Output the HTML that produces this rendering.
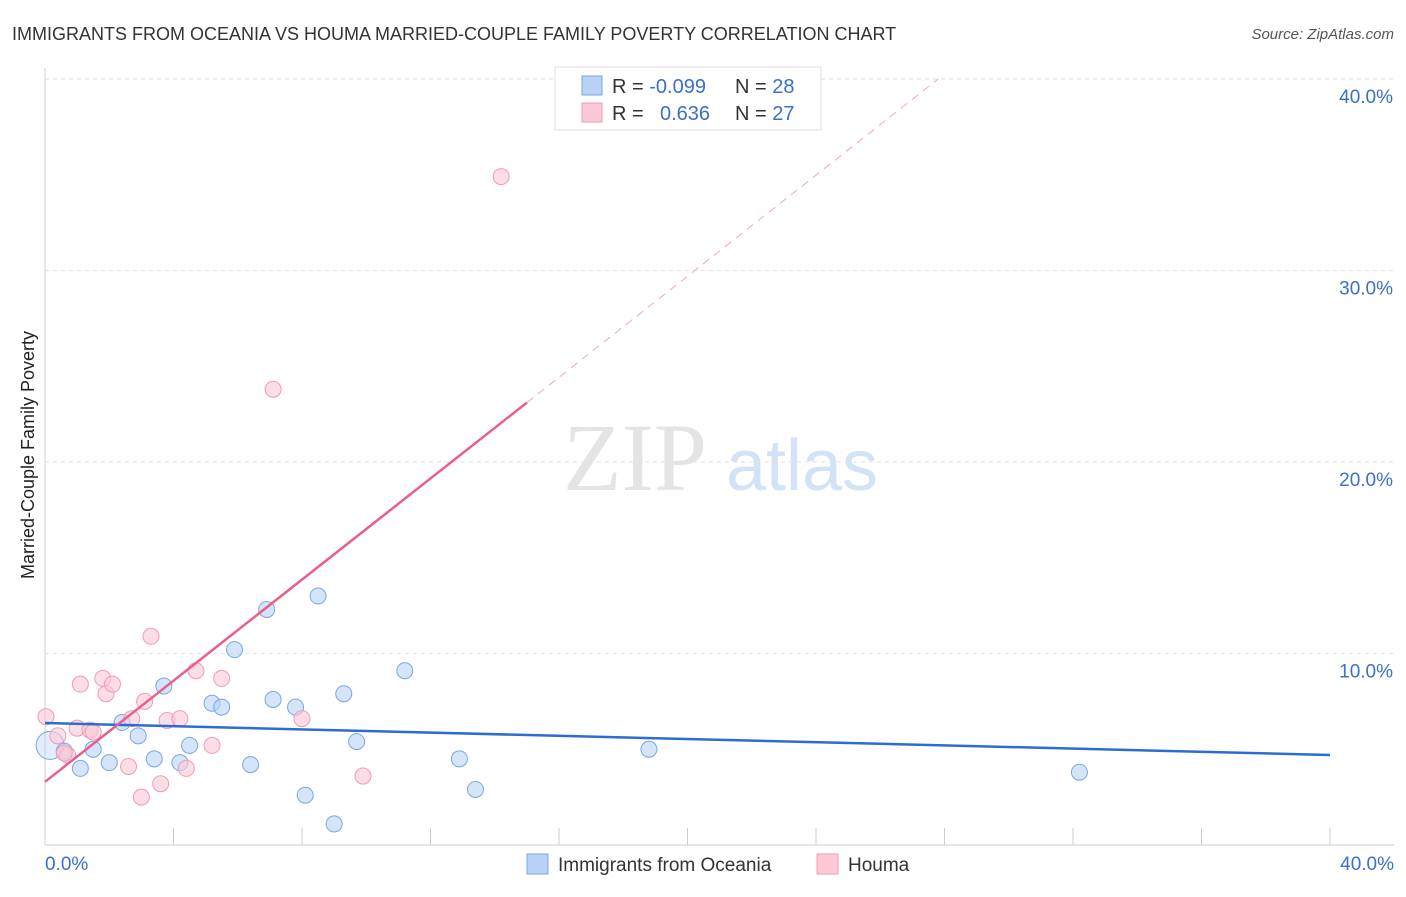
<!DOCTYPE html>
<html><head><meta charset="utf-8"><style>
body{margin:0;background:#fff;font-family:"Liberation Sans",sans-serif;}
</style></head><body>
<svg id="c" width="1406" height="892" xmlns="http://www.w3.org/2000/svg" font-family="Liberation Sans, sans-serif">
<text x="12" y="40" font-size="18" fill="#333">IMMIGRANTS FROM OCEANIA VS HOUMA MARRIED-COUPLE FAMILY POVERTY CORRELATION CHART</text>
<text x="1394" y="39" font-size="15" fill="#555" font-style="italic" text-anchor="end">Source: ZipAtlas.com</text>
<text x="635" y="490" font-size="96" fill="#e4e4e4" font-family="Liberation Serif, serif" text-anchor="middle">ZIP</text>
<text x="802" y="490" font-size="72" fill="#d3e2f5" text-anchor="middle">atlas</text>
<text x="34" y="455" font-size="18" fill="#222" text-anchor="middle" transform="rotate(-90 34 455)">Married-Couple Family Poverty</text>
<g id="grid"></g><g id="marks"></g>
<g>
<rect x="555" y="67" width="266" height="63" fill="#fff" stroke="#ddd"/>
<rect x="582" y="76" width="20" height="19" fill="#b8d3f5" stroke="#7aa6e0"/>
<rect x="582" y="103" width="20" height="19" fill="#fbc8d6" stroke="#f09ab4"/>
<text x="612" y="93" font-size="20" fill="#333">R = <tspan fill="#3a6fcc">-0.099</tspan></text>
<text x="735" y="93" font-size="20" fill="#333">N = <tspan fill="#3a6fcc">28</tspan></text>
<text x="612" y="120" font-size="20" fill="#333">R = <tspan fill="#3a6fcc" x="660">0.636</tspan></text>
<text x="735" y="120" font-size="20" fill="#333">N = <tspan fill="#3a6fcc">27</tspan></text>
</g>
<g>
<rect x="527" y="854" width="21" height="20" fill="#b8d3f5" stroke="#7aa6e0"/>
<text x="558" y="871" font-size="19" fill="#333">Immigrants from Oceania</text>
<rect x="817" y="854" width="21" height="20" fill="#fbc8d6" stroke="#f09ab4"/>
<text x="848" y="871" font-size="19" fill="#333">Houma</text>
</g>
</svg>
<script>
const yTicks=[10,20,30,40];
const xTickLabels=["0.0%","40.0%"];
const blueX=[0.16,0.6,1.1,1.5,2.0,2.4,2.9,3.4,3.7,4.2,4.5,5.2,5.5,5.9,6.4,6.9,7.1,7.8,8.1,8.5,9.0,9.3,9.7,11.2,12.9,13.4,18.8,32.2];
const blueY=[5.2,4.9,4.0,5.0,4.3,6.4,5.7,4.5,8.3,4.3,5.2,7.4,7.2,10.2,4.2,12.3,7.6,7.2,2.6,13.0,1.1,7.9,5.4,9.1,4.5,2.9,5.0,3.8];
const pinkX=[0.03,0.7,1.0,1.1,1.4,1.8,1.9,2.1,2.6,2.7,3.0,3.1,3.3,3.6,3.8,4.2,4.4,4.7,5.2,5.5,7.1,8.0,9.9,14.2,0.4,1.5,0.6];
const pinkY=[6.7,4.7,6.1,8.4,6.0,8.7,7.9,8.4,4.1,6.6,2.5,7.5,10.9,3.2,6.5,6.6,4.0,9.1,5.2,8.7,23.8,6.6,3.6,34.9,5.7,5.9,4.8];
const blueTrend=[6.37,4.7];
const pinkTrend=[3.3,1.32];
const X=v=>45+v*32.125, Y=v=>845-v*19.15;
const NS="http://www.w3.org/2000/svg";
const g=document.getElementById('grid'), m=document.getElementById('marks');
function mk(p,tag,a){const e=document.createElementNS(NS,tag);for(const k in a)e.setAttribute(k,a[k]);p.appendChild(e);return e;}
yTicks.forEach(t=>{
 const l=mk(g,'line',{x1:45,x2:1394,y1:Y(t),y2:Y(t),stroke:'#e2e2e2','stroke-dasharray':'4,4'});
 
 
 const tx=mk(g,'text',{x:1393,y:Y(t)+24,'font-size':19,fill:'#3a6fcc','text-anchor':'end'});tx.textContent=t.toFixed(1)+'%';
 
 
});
const ax=mk(g,'line',{x1:45,x2:1394,y1:845,y2:845,stroke:'#ccc'});


const ay=mk(g,'line',{x1:45,x2:45,y1:68,y2:845,stroke:'#ccc'});


for(let i=0;i<=40;i+=4){const t=mk(g,'line',{x1:X(i),x2:X(i),y1:828,y2:845,stroke:'#ccc'});
 
 }
[[0,'start',45],[1,'end',1394]].forEach(([i,a,x])=>{const t=mk(g,'text',{x:x,y:870,'font-size':19,fill:'#3a6fcc','text-anchor':a});t.textContent=xTickLabels[i];
 
 });
blueX.forEach((x,i)=>{const c=mk(m,'circle',{cx:X(x),cy:Y(blueY[i]),r:i==0?14:8,fill:'#b8d3f5','fill-opacity':i==0?0.4:0.6,stroke:'#7aa6e0'});
 
 });
pinkX.forEach((x,i)=>{const c=mk(m,'circle',{cx:X(x),cy:Y(pinkY[i]),r:8,fill:'#fbc8d6','fill-opacity':0.6,stroke:'#f09ab4'});
 
 });
const bl=mk(m,'line',{x1:X(0),y1:Y(blueTrend[0]),x2:X(40),y2:Y(blueTrend[1]),stroke:'#2a6dd4','stroke-width':2.5});


const pe=(40-pinkTrend[0])/pinkTrend[1];
const pl=mk(m,'line',{x1:X(0),y1:Y(pinkTrend[0]),x2:X(15),y2:Y(pinkTrend[0]+15*pinkTrend[1]),stroke:'#e8608a','stroke-width':2.5});


const pd=mk(m,'line',{x1:X(15),y1:Y(pinkTrend[0]+15*pinkTrend[1]),x2:X(pe),y2:Y(40),stroke:'#f0a8bf','stroke-width':1,'stroke-dasharray':'8,6'});


</script>
</body></html>
